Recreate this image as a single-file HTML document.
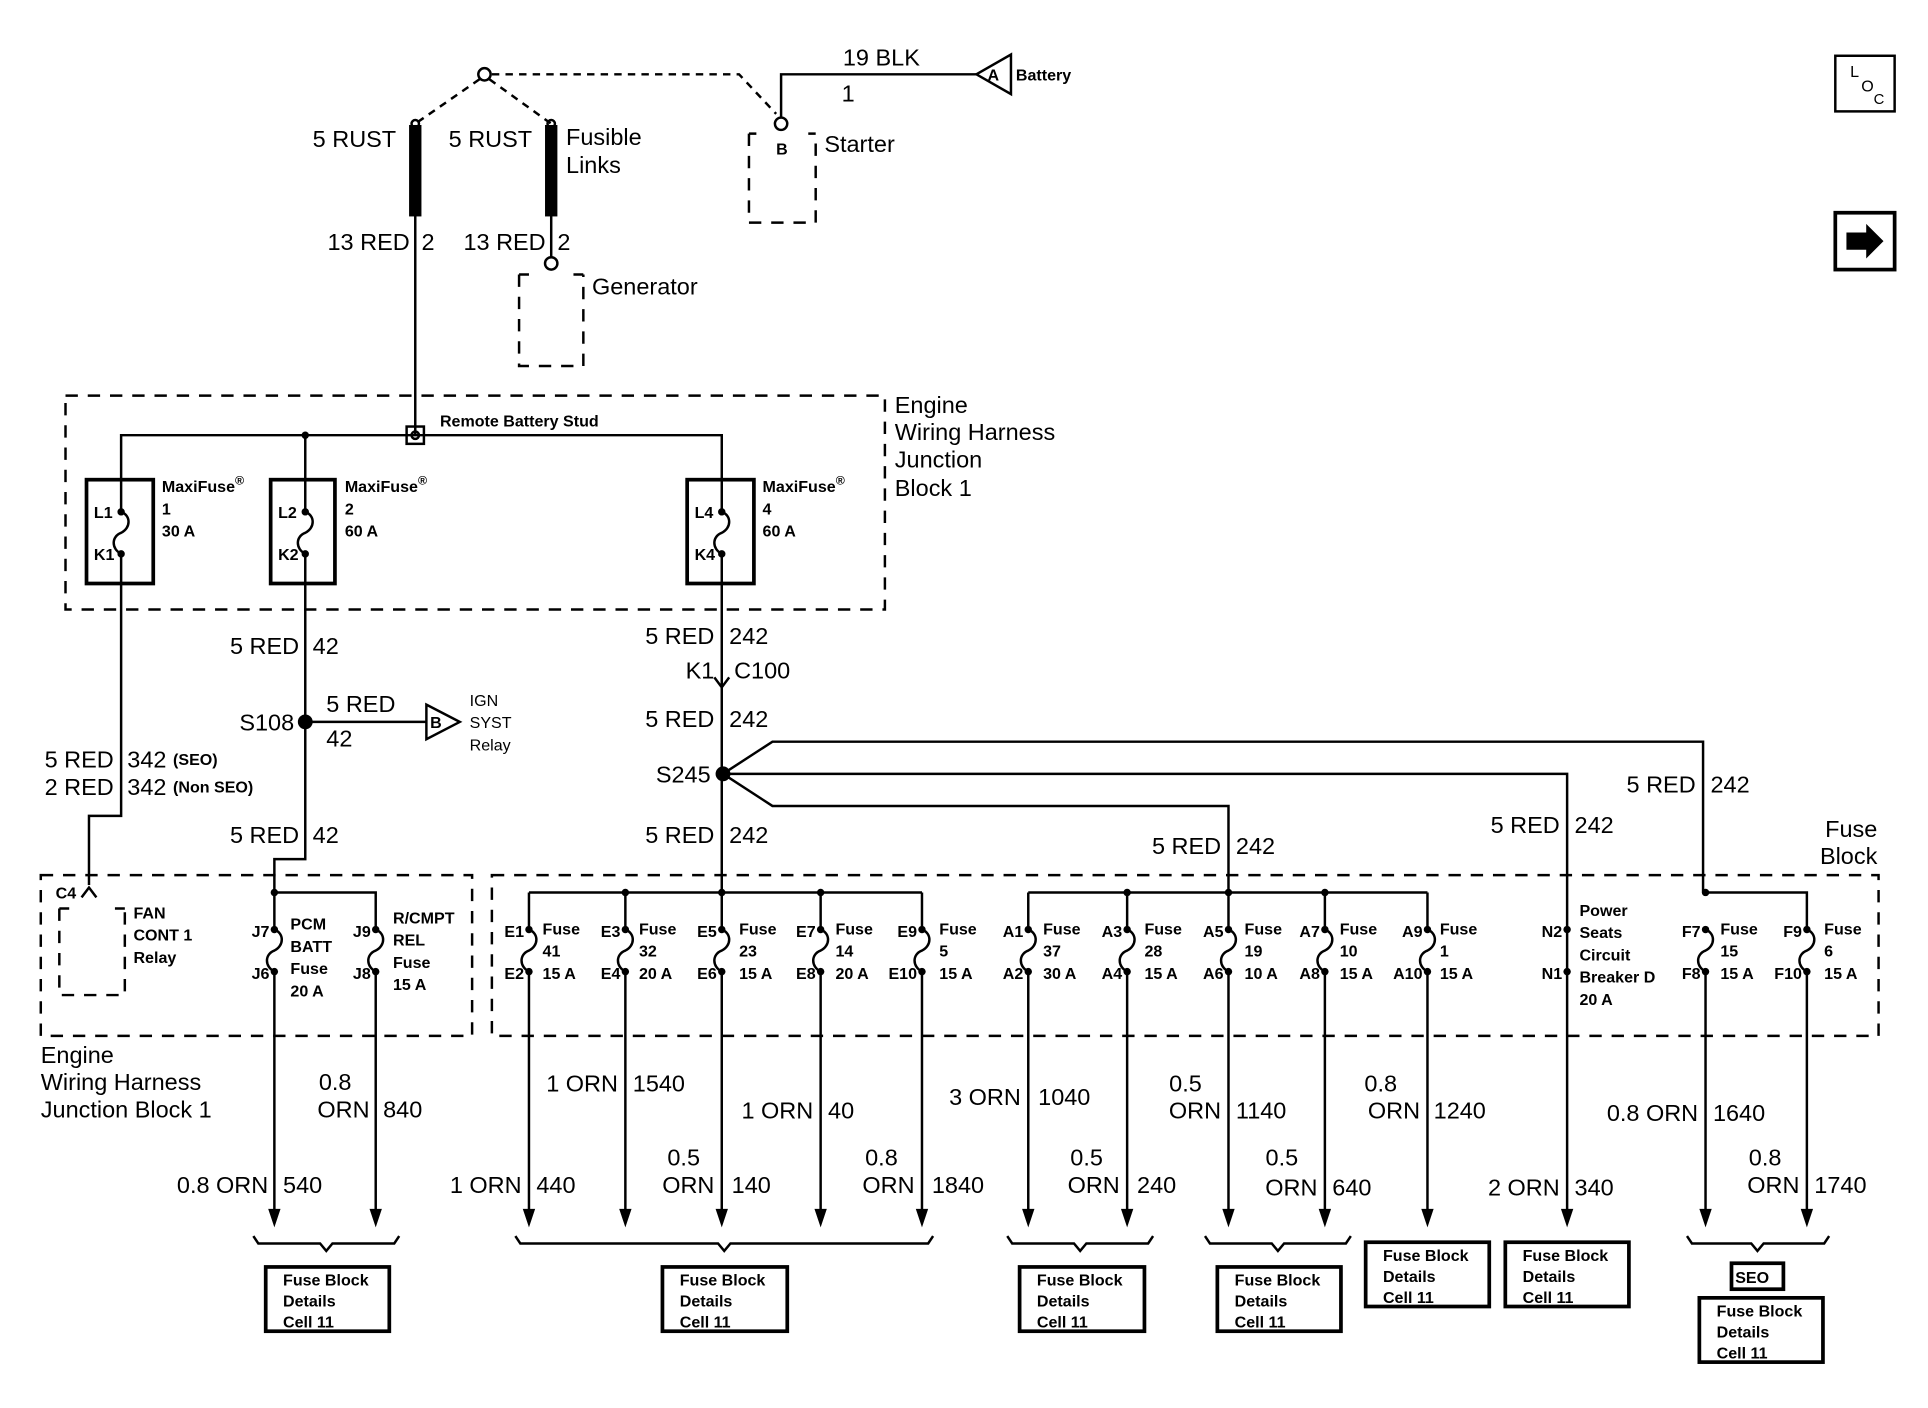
<!DOCTYPE html>
<html><head><meta charset="utf-8"><style>
html,body{margin:0;padding:0;background:#fff;}
svg{display:block;}
text{font-family:"Liberation Sans",sans-serif;fill:#000;}
.w{font-size:19px;}
.s{font-size:13px;font-weight:bold;}
.m{font-size:14px;}
</style></head><body>
<svg width="1928" height="1408" viewBox="0 0 1560 1139" xmlns="http://www.w3.org/2000/svg">
<defs>
<path id="fz" d="M0,0 c8,3 8,13 0,17 c-8,3 -8,13 0,17" fill="none" stroke="#000" stroke-width="2"/>
</defs>
<g stroke="#000" stroke-width="2" fill="none">
<!-- top dashed -->
<circle cx="392" cy="60" r="5"/>
<path d="M388,64 L336,100 M396,64 L446,100 M398,60 H598 L628,92" stroke-dasharray="6,5"/>
<rect x="332" y="102" width="8" height="72" fill="#000"/>
<rect x="442" y="102" width="8" height="72" fill="#000"/>
<circle cx="336" cy="100" r="3"/><circle cx="446" cy="100" r="3"/>
<path d="M336,174 V352"/>
<path d="M446,174 V208"/><circle cx="446" cy="213" r="5"/>
<path d="M420,222 V296 H472 V222 M420,222 H428 M464,222 H472" stroke-dasharray="10,8"/>
<path d="M632,95 V60 H790"/>
<polygon points="790,60 818,44 818,76"/>
<circle cx="632" cy="100" r="5"/>
<path d="M606,108 V180 H660 V108 M606,108 H612 M654,108 H660" stroke-dasharray="10,8"/>
<rect x="1485" y="45" width="48" height="45"/>
<rect x="1485" y="172" width="48" height="46" stroke-width="3"/>
<!-- junction block -->
<rect x="53" y="320" width="663" height="173" stroke-dasharray="10,8"/>
<path d="M98,388 V352 H584 V388 M247,352 V388"/>
<rect x="329" y="345" width="14" height="14"/>
<circle cx="336" cy="352" r="3"/>
<rect x="70" y="388" width="54" height="84" stroke-width="3"/>
<rect x="219" y="388" width="52" height="84" stroke-width="3"/>
<rect x="556" y="388" width="54" height="84" stroke-width="3"/>
<path d="M98,388 V414 M98,448 V660 H72 V716"/>
<path d="M247,388 V414 M247,448 V695 H222 V722"/>
<path d="M584,388 V414 M584,448 V722"/>
<path d="M247,584 H345"/>
<polygon points="345,570 372,584 345,598"/>
<path d="M578,548 L584,556 L590,548"/>
<path d="M66,726 L72,718 L78,726"/>
<!-- S245 branches -->
<path d="M585,626 L625,600 H1378 V722"/>
<path d="M585,626 H1268 V752"/>
<path d="M585,626 L625,652 H994 V722"/>
<!-- fuse blocks -->
<rect x="33" y="708" width="349" height="130" stroke-dasharray="10,8"/>
<rect x="398" y="708" width="1122" height="130" stroke-dasharray="10,8"/>
<path d="M48,735 V805 H101 V735 M48,735 H56 M93,735 H101" stroke-dasharray="10,8"/>
<path d="M222,722 H304 V752 M222,722 V752"/>
<path d="M428,722 H746 M428,722 V752 M506,722 V752 M664,722 V752 M746,722 V752 M584,722 V752"/>
<path d="M832,722 H1155 M832,722 V752 M912,722 V752 M994,722 V752 M1072,722 V752 M1155,722 V752"/>
<path d="M1380,722 H1462 V752"/>
<path d="M1268,752 V786"/>
<!-- wires down -->
<path d="M222,786 V980 M304,786 V980 M428,786 V980 M506,786 V980 M584,786 V980 M664,786 V980 M746,786 V980 M832,786 V980 M912,786 V980 M994,786 V980 M1072,786 V980 M1155,786 V980 M1268,786 V980 M1380,786 V980 M1462,786 V980"/>
<!-- braces -->
<path d="M205,1000 l4,6 H259 l5,6 l5,-6 H319 l4,-6"/>
<path d="M417,1000 l4,6 H581 l5,6 l5,-6 H751 l4,-6"/>
<path d="M815,1000 l4,6 H869 l5,6 l5,-6 H929 l4,-6"/>
<path d="M975,1000 l4,6 H1029 l5,6 l5,-6 H1089 l4,-6"/>
<path d="M1365,1000 l4,6 H1417 l5,6 l5,-6 H1476 l4,-6"/>
<g stroke-width="3">
<rect x="215" y="1025" width="100" height="52"/>
<rect x="536" y="1025" width="101" height="52"/>
<rect x="825" y="1025" width="101" height="52"/>
<rect x="985" y="1025" width="100" height="52"/>
<rect x="1105" y="1005" width="100" height="52"/>
<rect x="1218" y="1005" width="100" height="52"/>
<rect x="1401" y="1022" width="42" height="21"/>
<rect x="1375" y="1050" width="100" height="52"/>
</g>
</g>
<!-- fuse symbols -->
<g>
<use href="#fz" x="98" y="414"/><use href="#fz" x="247" y="414"/><use href="#fz" x="584" y="414"/>
<use href="#fz" x="222" y="752"/><use href="#fz" x="304" y="752"/>
<use href="#fz" x="428" y="752"/><use href="#fz" x="506" y="752"/><use href="#fz" x="584" y="752"/><use href="#fz" x="664" y="752"/><use href="#fz" x="746" y="752"/>
<use href="#fz" x="832" y="752"/><use href="#fz" x="912" y="752"/><use href="#fz" x="994" y="752"/><use href="#fz" x="1072" y="752"/><use href="#fz" x="1155" y="752"/>
<use href="#fz" x="1380" y="752"/><use href="#fz" x="1462" y="752"/>
</g>
<g fill="#000">
<circle cx="247" cy="352" r="3"/><circle cx="247" cy="584" r="6"/><circle cx="585" cy="626" r="6"/>
<circle cx="222" cy="722" r="3"/><circle cx="506" cy="722" r="3"/><circle cx="584" cy="722" r="3"/><circle cx="664" cy="722" r="3"/>
<circle cx="912" cy="722" r="3"/><circle cx="994" cy="722" r="3"/><circle cx="1072" cy="722" r="3"/><circle cx="1380" cy="722" r="3"/>
<g id="dots">
<circle cx="98" cy="414" r="3"/><circle cx="98" cy="448" r="3"/><circle cx="247" cy="414" r="3"/><circle cx="247" cy="448" r="3"/><circle cx="584" cy="414" r="3"/><circle cx="584" cy="448" r="3"/>
</g>
<polygon points="217,978 227,978 222,993"/><polygon points="299,978 309,978 304,993"/>
<polygon points="423,978 433,978 428,993"/><polygon points="501,978 511,978 506,993"/><polygon points="579,978 589,978 584,993"/><polygon points="659,978 669,978 664,993"/><polygon points="741,978 751,978 746,993"/>
<polygon points="827,978 837,978 832,993"/><polygon points="907,978 917,978 912,993"/><polygon points="989,978 999,978 994,993"/><polygon points="1067,978 1077,978 1072,993"/><polygon points="1150,978 1160,978 1155,993"/>
<polygon points="1263,978 1273,978 1268,993"/><polygon points="1375,978 1385,978 1380,993"/><polygon points="1457,978 1467,978 1462,993"/>
</g>
<!-- texts -->
<g class="w">
<text x="682" y="53">19 BLK</text><text x="681" y="82">1</text>
<text x="253" y="119">5 RUST</text><text x="363" y="119">5 RUST</text>
<text x="458" y="117">Fusible</text><text x="458" y="140">Links</text>
<text x="667" y="123">Starter</text>
<text x="265" y="202">13 RED</text><text x="341" y="202">2</text>
<text x="375" y="202">13 RED</text><text x="451" y="202">2</text>
<text x="479" y="238">Generator</text>
<text x="724" y="334">Engine</text><text x="724" y="356">Wiring Harness</text><text x="724" y="378">Junction</text><text x="724" y="401">Block 1</text>
<g text-anchor="end">
<text x="242" y="529">5 RED</text><text x="578" y="521">5 RED</text><text x="578" y="549">K1</text>
<text x="238" y="591">S108</text><text x="578" y="588">5 RED</text><text x="575" y="633">S245</text>
<text x="92" y="621">5 RED</text><text x="92" y="643">2 RED</text>
<text x="242" y="682">5 RED</text><text x="578" y="682">5 RED</text>
<text x="988" y="691">5 RED</text><text x="1262" y="674">5 RED</text><text x="1372" y="641">5 RED</text>
<text x="1519" y="677">Fuse</text><text x="1519" y="699">Block</text>
</g>
<text x="253" y="529">42</text><text x="590" y="521">242</text><text x="594" y="549">C100</text>
<text x="264" y="576">5 RED</text><text x="264" y="604">42</text><text x="590" y="588">242</text>
<text x="103" y="621">342</text><text x="103" y="643">342</text>
<text x="253" y="682">42</text><text x="590" y="682">242</text>
<text x="1000" y="691">242</text><text x="1274" y="674">242</text><text x="1384" y="641">242</text>
<text x="33" y="860">Engine</text><text x="33" y="882">Wiring Harness</text><text x="33" y="904">Junction Block 1</text>
<!-- bottom wire labels -->
<text x="258" y="882">0.8</text>
<text x="1104" y="883">0.8</text><text x="946" y="883">0.5</text>
<text x="540" y="943">0.5</text><text x="700" y="943">0.8</text><text x="866" y="943">0.5</text><text x="1024" y="943">0.5</text><text x="1415" y="943">0.8</text>
<g text-anchor="end">
<text x="299" y="904">ORN</text><text x="217" y="965">0.8 ORN</text>
<text x="422" y="965">1 ORN</text><text x="500" y="883">1 ORN</text><text x="578" y="965">ORN</text><text x="658" y="905">1 ORN</text><text x="740" y="965">ORN</text>
<text x="826" y="894">3 ORN</text><text x="906" y="965">ORN</text><text x="988" y="905">ORN</text><text x="1066" y="967">ORN</text><text x="1149" y="905">ORN</text>
<text x="1262" y="967">2 ORN</text><text x="1374" y="907">0.8 ORN</text><text x="1456" y="965">ORN</text>
</g>
<text x="310" y="904">840</text><text x="229" y="965">540</text>
<text x="434" y="965">440</text><text x="512" y="883">1540</text><text x="592" y="965">140</text><text x="670" y="905">40</text><text x="754" y="965">1840</text>
<text x="840" y="894">1040</text><text x="920" y="965">240</text><text x="1000" y="905">1140</text><text x="1078" y="967">640</text><text x="1160" y="905">1240</text>
<text x="1274" y="967">340</text><text x="1386" y="907">1640</text><text x="1468" y="965">1740</text>
</g>
<g class="s">
<text x="822" y="65">Battery</text><text x="628" y="125">B</text><text x="799" y="65">A</text>
<text x="356" y="345">Remote Battery Stud</text>
<text x="131" y="398">MaxiFuse<tspan font-size="10" dy="-6">®</tspan></text><text x="131" y="416">1</text><text x="131" y="434">30 A</text>
<text x="279" y="398">MaxiFuse<tspan font-size="10" dy="-6">®</tspan></text><text x="279" y="416">2</text><text x="279" y="434">60 A</text>
<text x="617" y="398">MaxiFuse<tspan font-size="10" dy="-6">®</tspan></text><text x="617" y="416">4</text><text x="617" y="434">60 A</text>
<text x="76" y="419">L1</text><text x="76" y="453">K1</text><text x="225" y="419">L2</text><text x="225" y="453">K2</text><text x="562" y="419">L4</text><text x="562" y="453">K4</text>
<text x="348" y="589">B</text>
<text x="380" y="571" font-weight="normal">IGN</text><text x="380" y="589" font-weight="normal">SYST</text><text x="380" y="607" font-weight="normal">Relay</text>
<text x="140" y="619">(SEO)</text><text x="140" y="641">(Non SEO)</text>
<text x="45" y="727">C4</text>
<text x="108" y="743">FAN</text><text x="108" y="761">CONT 1</text><text x="108" y="779">Relay</text>
<text x="235" y="752">PCM</text><text x="235" y="770">BATT</text><text x="235" y="788">Fuse</text><text x="235" y="806">20 A</text>
<text x="318" y="747">R/CMPT</text><text x="318" y="765">REL</text><text x="318" y="783">Fuse</text><text x="318" y="801">15 A</text>
<text x="1278" y="741">Power</text><text x="1278" y="759">Seats</text><text x="1278" y="777">Circuit</text><text x="1278" y="795">Breaker D</text><text x="1278" y="813">20 A</text>
<g text-anchor="end">
<text x="218" y="758">J7</text><text x="218" y="792">J6</text><text x="300" y="758">J9</text><text x="300" y="792">J8</text>
<text x="424" y="758">E1</text><text x="424" y="792">E2</text><text x="502" y="758">E3</text><text x="502" y="792">E4</text><text x="580" y="758">E5</text><text x="580" y="792">E6</text><text x="660" y="758">E7</text><text x="660" y="792">E8</text><text x="742" y="758">E9</text><text x="742" y="792">E10</text>
<text x="828" y="758">A1</text><text x="828" y="792">A2</text><text x="908" y="758">A3</text><text x="908" y="792">A4</text><text x="990" y="758">A5</text><text x="990" y="792">A6</text><text x="1068" y="758">A7</text><text x="1068" y="792">A8</text><text x="1151" y="758">A9</text><text x="1151" y="792">A10</text>
<text x="1264" y="758">N2</text><text x="1264" y="792">N1</text>
<text x="1376" y="758">F7</text><text x="1376" y="792">F8</text><text x="1458" y="758">F9</text><text x="1458" y="792">F10</text>
</g>
<g>
<text x="439" y="756">Fuse</text><text x="439" y="774">41</text><text x="439" y="792">15 A</text>
<text x="517" y="756">Fuse</text><text x="517" y="774">32</text><text x="517" y="792">20 A</text>
<text x="598" y="756">Fuse</text><text x="598" y="774">23</text><text x="598" y="792">15 A</text>
<text x="676" y="756">Fuse</text><text x="676" y="774">14</text><text x="676" y="792">20 A</text>
<text x="760" y="756">Fuse</text><text x="760" y="774">5</text><text x="760" y="792">15 A</text>
<text x="844" y="756">Fuse</text><text x="844" y="774">37</text><text x="844" y="792">30 A</text>
<text x="926" y="756">Fuse</text><text x="926" y="774">28</text><text x="926" y="792">15 A</text>
<text x="1007" y="756">Fuse</text><text x="1007" y="774">19</text><text x="1007" y="792">10 A</text>
<text x="1084" y="756">Fuse</text><text x="1084" y="774">10</text><text x="1084" y="792">15 A</text>
<text x="1165" y="756">Fuse</text><text x="1165" y="774">1</text><text x="1165" y="792">15 A</text>
<text x="1392" y="756">Fuse</text><text x="1392" y="774">15</text><text x="1392" y="792">15 A</text>
<text x="1476" y="756">Fuse</text><text x="1476" y="774">6</text><text x="1476" y="792">15 A</text>
</g>
<text x="1404" y="1038">SEO</text>
<g>
<text x="229" y="1040">Fuse Block</text><text x="229" y="1057">Details</text><text x="229" y="1074">Cell 11</text>
<text x="550" y="1040">Fuse Block</text><text x="550" y="1057">Details</text><text x="550" y="1074">Cell 11</text>
<text x="839" y="1040">Fuse Block</text><text x="839" y="1057">Details</text><text x="839" y="1074">Cell 11</text>
<text x="999" y="1040">Fuse Block</text><text x="999" y="1057">Details</text><text x="999" y="1074">Cell 11</text>
<text x="1119" y="1020">Fuse Block</text><text x="1119" y="1037">Details</text><text x="1119" y="1054">Cell 11</text>
<text x="1232" y="1020">Fuse Block</text><text x="1232" y="1037">Details</text><text x="1232" y="1054">Cell 11</text>
<text x="1389" y="1065">Fuse Block</text><text x="1389" y="1082">Details</text><text x="1389" y="1099">Cell 11</text>
</g>
</g>
<text x="1497" y="62" font-size="13">L</text><text x="1506" y="74" font-size="13">O</text><text x="1516" y="84" font-size="12">C</text>
<polygon points="1494,188 1510,188 1510,181 1524,195 1510,209 1510,202 1494,202" fill="#000"/>
<g fill="#000">
<circle cx="222" cy="752" r="3"/><circle cx="222" cy="786" r="3"/><circle cx="304" cy="752" r="3"/><circle cx="304" cy="786" r="3"/>
<circle cx="428" cy="752" r="3"/><circle cx="428" cy="786" r="3"/><circle cx="506" cy="752" r="3"/><circle cx="506" cy="786" r="3"/><circle cx="584" cy="752" r="3"/><circle cx="584" cy="786" r="3"/><circle cx="664" cy="752" r="3"/><circle cx="664" cy="786" r="3"/><circle cx="746" cy="752" r="3"/><circle cx="746" cy="786" r="3"/>
<circle cx="832" cy="752" r="3"/><circle cx="832" cy="786" r="3"/><circle cx="912" cy="752" r="3"/><circle cx="912" cy="786" r="3"/><circle cx="994" cy="752" r="3"/><circle cx="994" cy="786" r="3"/><circle cx="1072" cy="752" r="3"/><circle cx="1072" cy="786" r="3"/><circle cx="1155" cy="752" r="3"/><circle cx="1155" cy="786" r="3"/>
<circle cx="1268" cy="752" r="3"/><circle cx="1268" cy="786" r="3"/>
<circle cx="1380" cy="752" r="3"/><circle cx="1380" cy="786" r="3"/><circle cx="1462" cy="752" r="3"/><circle cx="1462" cy="786" r="3"/>
</g>
</svg>
</body></html>
